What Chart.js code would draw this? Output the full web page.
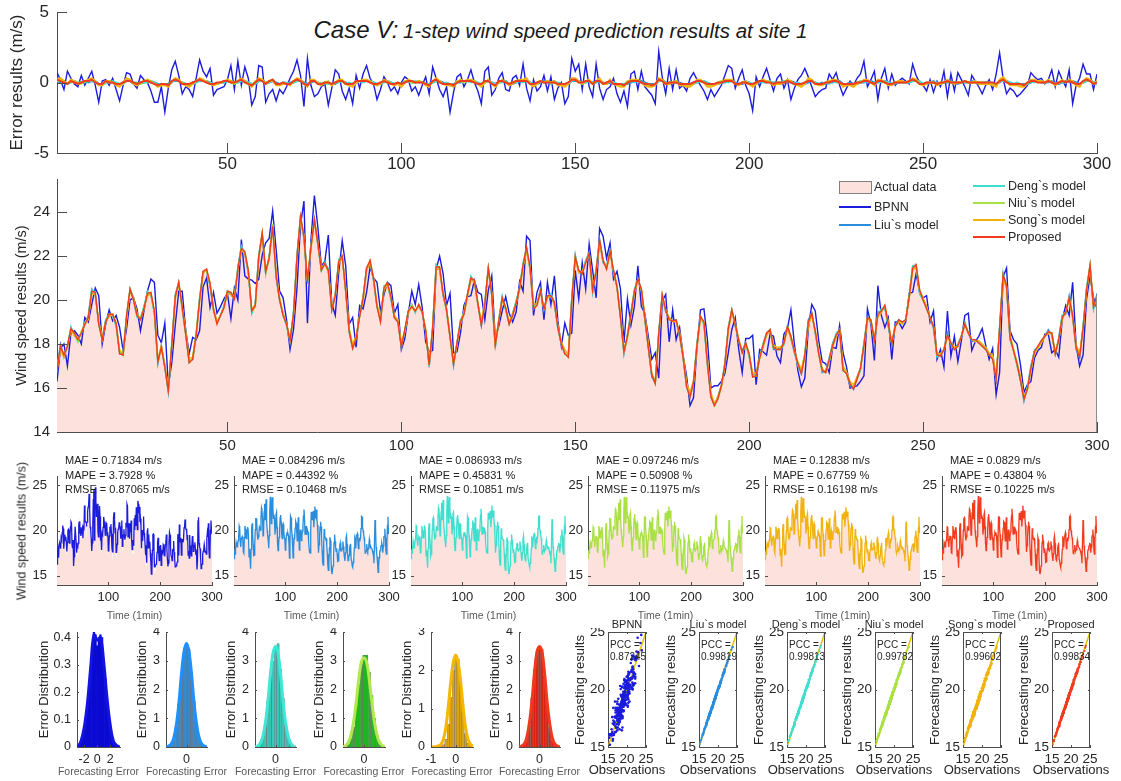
<!DOCTYPE html>
<html>
<head>
<meta charset="utf-8">
<title>Case V: 1-step wind speed prediction results at site 1</title>
<script src="https://cdn.jsdelivr.net/npm/chart.js@4.4.1/dist/chart.umd.min.js"></script>
<style>
  body { margin: 0; background: #fff; }
  #fig { position: relative; width: 1121px; height: 781px; overflow: hidden;
         font-family: "Liberation Sans", Arial, sans-serif; color: #262626; }
  #fig canvas { position: absolute; }
  .t { position: absolute; white-space: nowrap; }
</style>
</head>
<body>
<div id="fig">
  <div class="t" style="left:0;width:1121px;text-align:center;top:15px;line-height:30px;font-style:italic;color:#1a1a1a">
    <span style="font-size:24px">Case V:</span> <span style="font-size:20.5px">1-step wind speed prediction results at site 1</span>
  </div>
</div>
<script>
// ---- data ----
const steps = Array.from({length: 300}, (_, k) => k + 1); // time index, 1 min

const actual = [
17.0,18.0,17.5,17.8,18.8,18.5,18.1,18.5,19.0,19.3,
20.6,20.35,18.8,18.1,19.1,19.35,19.35,18.8,17.45,17.5,
19.4,20.6,20.0,19.2,19.1,19.7,20.4,20.35,19.4,17.0,
17.75,16.85,15.7,18.05,20.35,20.9,19.6,18.35,17.05,17.3,
18.5,20.2,21.4,21.4,20.65,19.45,18.9,19.3,19.75,20.5,
20.35,20.05,21.5,22.55,22.2,21.25,19.3,19.75,22.15,23.15,
21.2,22.0,23.55,21.0,19.9,19.3,18.8,18.05,19.45,22.15,
23.9,22.8,20.65,22.5,23.75,22.5,21.25,21.65,21.35,19.45,
20.2,21.85,22.1,20.35,18.5,17.7,18.35,19.35,20.2,21.55,
21.8,20.9,19.6,19.0,20.65,20.8,20.05,19.1,19.0,17.75,
18.65,19.6,19.8,19.5,19.8,19.45,18.5,16.85,18.8,21.7,
21.5,20.2,19.45,18.2,16.9,18.05,19.1,19.45,20.35,21.1,
20.9,19.75,18.75,19.9,21.55,20.2,17.75,19.1,20.2,19.65,
18.8,19.3,19.95,20.65,21.7,22.5,21.4,19.5,19.75,20.5,
19.6,20.2,20.2,19.9,18.65,17.9,17.45,17.4,20.2,22.15,
21.35,21.2,21.8,22.25,20.35,21.4,22.85,21.7,21.4,22.3,
21.25,20.5,19.1,17.45,18.35,19.45,20.5,21.05,20.5,19.1,
17.75,16.4,16.1,18.65,20.35,19.45,19.1,19.05,19.1,18.35,
17.3,15.95,15.5,16.25,18.05,19.35,19.0,17.0,15.5,15.1,
15.5,16.1,17.15,18.8,19.65,18.8,18.05,17.6,18.05,17.45,
16.4,16.55,17.45,18.05,18.5,18.65,17.75,17.75,17.75,18.05,
18.9,18.35,17.6,17.0,16.55,17.45,19.1,19.5,18.5,17.45,
16.7,16.7,17.3,18.05,18.5,18.65,16.7,16.55,16.1,15.85,
16.4,16.9,18.05,19.3,19.1,18.05,19.45,19.6,19.75,18.8,
17.9,18.8,19.1,19.0,19.1,20.2,21.65,21.7,20.35,19.9,
19.6,19.2,18.8,17.4,17.45,17.75,18.5,18.05,17.75,17.9,
18.35,19.0,18.5,18.2,18.2,18.05,17.9,17.75,17.5,17.3,
16.3,18.8,21.35,20.65,18.2,17.6,17.0,16.25,15.3,15.95,
17.0,17.75,17.9,18.15,18.35,18.65,18.5,17.45,18.2,19.3,
19.45,20.2,19.3,17.75,17.3,18.8,20.65,21.7,19.6,20.2
];

// forecasting errors (actual - forecast), m/s
const errBPNN = [
0.7,0.2,-0.5,0.8,0.3,-0.1,-0.3,0.5,-0.2,0.3,
0.8,-0.2,-1.4,0.1,0.2,-0.2,0.3,-0.5,-1.3,-0.2,
0.7,0.6,-0.1,-0.4,0.5,0.2,0.0,-0.6,-1.4,-1.4,
-0.3,-2.1,-0.4,0.9,1.5,0.5,-0.8,-0.3,-0.5,-1.0,
0.3,1.6,0.8,0.4,1.0,-0.9,-0.5,-0.4,-0.3,0.2,
1.2,-0.5,1.5,-0.2,1.1,0.3,-1.6,-1.0,1.2,1.1,
-1.4,-0.8,-0.5,-1.3,-0.5,-0.8,-0.3,0.3,0.8,1.6,
0.5,-1.7,1.7,-0.2,-1.0,-0.8,-0.3,-0.1,-1.6,-0.4,
0.9,0.6,-0.6,-1.2,-0.4,-1.5,0.5,-0.4,0.6,1.2,
0.3,-0.1,-1.2,-0.5,0.4,0.0,-0.6,-0.3,-0.8,0.0,
0.4,0.2,-0.6,-0.3,-0.9,-0.2,0.4,-0.8,1.1,0.3,
-0.5,-1.0,-0.3,-2.1,-0.7,0.4,0.6,-0.3,0.2,0.9,
0.0,-0.6,-1.5,0.8,1.1,-0.9,-0.5,0.3,0.7,-0.5,
-0.6,0.3,0.5,-0.2,1.3,-0.4,-1.3,0.2,-0.6,-0.3,
0.5,-0.6,0.4,-1.2,-0.4,0.0,-1.5,-1.0,1.7,0.8,
1.3,-0.5,1.3,-0.3,-1.0,1.3,-0.4,-1.2,-0.5,-0.3,
0.3,-0.8,-1.4,-0.6,-1.7,0.6,0.8,-0.5,0.8,-0.3,
-0.6,-0.9,-1.5,2.2,0.4,-0.8,1.0,-0.5,0.9,-0.4,
-0.2,-0.6,0.3,0.7,0.2,-0.2,-0.6,-1.2,-0.5,-1.0,
-0.6,-0.2,0.5,1.2,1.0,-0.4,0.3,0.9,-0.2,-0.8,
-2.0,0.4,-0.3,0.4,1.0,0.2,-0.6,0.3,0.6,-0.4,
0.2,-1.2,-0.4,0.2,0.5,1.0,0.4,-0.3,-1.0,-0.7,
-0.5,-0.4,0.6,0.2,0.7,-0.2,-0.9,-0.4,0.1,-0.2,
0.3,0.6,1.5,-0.3,0.2,0.8,-1.2,0.3,1.0,-0.4,
0.6,-0.2,0.1,0.3,0.1,-0.1,1.3,0.5,0.0,-0.2,
-0.6,0.2,-0.7,0.1,-0.3,0.8,-1.0,0.6,-0.6,0.7,
0.2,-0.3,-0.9,0.5,0.1,-0.3,-0.8,-0.2,0.2,-0.5,
0.6,2.1,0.3,-0.8,-0.4,-0.6,-1.0,-0.8,-0.5,-0.2,
0.7,0.4,0.2,0.3,-0.1,0.2,0.9,-0.3,0.8,0.2,
-0.3,0.9,-1.5,-0.2,0.3,1.3,0.6,0.6,-0.5,0.6
];

const errLiu = [
0.1,0,0.1,-0.1,0.1,0.1,-0.1,0,0.1,0,
0.1,0.1,-0.1,-0.1,0,0.1,0,-0.1,-0.2,0,
0.2,0.1,-0.1,-0.1,0,0,0.1,0.1,0,-0.1,
-0.2,-0.1,-0.1,0.1,0.1,0.1,0,-0.1,-0.2,0,
0.1,0.1,0.1,0.1,0,-0.1,-0.1,0,0,0.1,
0.1,0,0,0.1,0.1,0,-0.1,-0.1,0.1,0.2,
0,0,0.1,0,-0.1,-0.1,-0.1,0,0,0.1,
0.2,0,-0.1,0,0.1,0,-0.1,-0.1,0,-0.1,
-0.1,0.1,0.1,0,-0.1,-0.1,0,0.1,0.1,0.1,
0.1,0,-0.1,-0.1,0.1,0.1,0,-0.1,-0.1,-0.1,
0.1,0.1,0,0,0.1,0,-0.1,-0.1,0,0.1,
0.1,0,-0.1,-0.2,-0.1,0,0,0.1,0.1,0.1,
0.1,-0.1,-0.1,0,0.1,0,-0.1,0,0.1,0.1,
-0.1,-0.1,0,0.1,0.1,0.2,0,-0.1,-0.1,0,
0.1,0,0,0.1,-0.1,-0.1,-0.1,-0.1,0.1,0.1,
0.1,0,0,0.1,0,0,0.2,0,-0.1,0,
0,-0.1,-0.1,-0.1,-0.1,0,0.1,0.1,0.1,0,
-0.1,-0.1,-0.1,0.1,0.2,0,-0.1,0,0,0,
-0.1,-0.2,-0.1,0,0,0.1,0.1,-0.1,-0.1,-0.1,
-0.1,0,0,0.1,0.1,0,-0.1,-0.1,0,0,
-0.2,-0.1,0,0.1,0.1,0,0,0,-0.1,0,
0.1,0.1,0,-0.1,-0.1,-0.1,0,0.1,0,-0.1,
0,-0.1,0,0,0.1,0.1,-0.1,-0.1,0,-0.1,
-0.1,0,0,0.1,0.1,0,0,0.1,0.1,0,
-0.1,-0.1,0,0,0,0,0.1,0.2,0,-0.1,
-0.1,0,0.1,-0.1,-0.1,0,0,0.1,0,-0.1,
0,0,0,0.1,0,0,-0.1,0,0,-0.1,
-0.1,0,0.2,0.1,0,-0.1,-0.1,-0.1,-0.1,-0.1,
0,0.1,0.1,0,0,0,0.1,-0.1,-0.1,0,
0.1,0,0.1,0,-0.1,0,0.1,0.2,0,-0.1
];

const errDeng = [
0.1,0.1,0,-0.1,0,0.1,0,0,0,0.1,
0.1,0,-0.1,-0.2,0,0,0.1,0,-0.1,-0.1,
0.1,0.1,0,0,-0.1,0,0,0.1,0,-0.2,
-0.1,-0.1,-0.2,0,0.2,0.1,0,-0.1,-0.1,-0.1,
0,0.1,0.2,0,0,-0.1,-0.1,0,0,0.1,
0,0,0,0.1,0.1,0,-0.1,-0.1,0.1,0.1,
0,0,0.2,-0.1,-0.1,0,0,-0.1,0,0.1,
0.1,-0.1,-0.2,0.1,0.1,0,-0.1,0,-0.1,-0.1,
0,0,0.1,-0.1,0,-0.1,0,0.1,0,0.1,
0.1,0,-0.1,-0.1,0,0.1,0,-0.1,0,-0.1,
0,0.1,0,0.1,0,0,-0.1,-0.1,0,0.1,
0.1,-0.1,0,-0.1,-0.2,0,0.1,0,0.1,0,
0.1,0,-0.1,0,0.1,0,-0.1,0,0,0.1,
-0.1,0,0,0.1,0,0.1,0,-0.1,-0.1,0.1,
0,0.1,-0.1,0,0,-0.1,-0.1,-0.1,0.1,0.2,
0.1,-0.1,0,0.1,0,0,0.1,-0.1,-0.1,0.1,
0,-0.1,-0.2,-0.1,0,0.1,0,0.1,0,-0.1,
-0.1,-0.2,-0.1,0.1,0.1,-0.1,0,0,0.1,-0.1,
-0.1,-0.1,-0.1,-0.1,0,0.1,0.1,0,-0.1,-0.1,
-0.1,0,0.1,0,0.1,-0.1,-0.1,0,0.1,0,
-0.1,0,0.1,0,0,0.1,-0.1,0,0,0.1,
0.1,0,-0.1,0,-0.1,-0.1,0.1,0.1,0,-0.1,
-0.1,0,-0.1,0.1,0,0,-0.1,-0.1,-0.1,-0.1,
0,0.1,0,0.1,0,-0.1,0.1,0,0.1,0,
-0.1,0,0,0.1,0,0,0.1,0.1,0.1,-0.1,
0,0,0,0,-0.1,0,0.1,0,0,0,
0,0.1,0,0,0.1,-0.1,0,0,0,-0.1,
-0.1,0.1,0.1,0.1,0,-0.1,0,-0.1,-0.2,-0.1,
0.1,0,0.1,0,0,0.1,0,-0.1,0,0,
0,0.1,0,-0.1,-0.1,0,0.1,0.1,0,0
];

const errNiu = [
0.1,0.2,0,-0.1,0.1,0,0,-0.1,0.1,0.1,
0.2,0.1,-0.2,-0.1,0.1,0,0,-0.1,-0.2,-0.1,
0.2,0.1,0,-0.1,-0.1,0.1,0.1,0,-0.1,-0.2,
-0.1,-0.2,-0.2,0.1,0.2,0.1,0,-0.2,-0.1,-0.1,
0.1,0.2,0.1,0.1,-0.1,-0.1,-0.1,0,0.1,0.1,
0,-0.1,0.1,0.2,0,-0.1,-0.2,0.1,0.2,0.1,
0,0.1,0.1,-0.1,-0.2,0,-0.1,-0.1,0.1,0.2,
0.2,-0.1,-0.2,0.1,0.1,0,-0.1,0,0.1,-0.2,
0,0.1,0.1,-0.1,-0.2,-0.1,0.1,0.1,0.1,0.2,
0,-0.1,-0.2,0,0.1,0,-0.1,-0.1,0,-0.2,
0.1,0.1,0,0,0.1,0,-0.1,-0.2,0.1,0.2,
0,-0.1,-0.1,-0.1,-0.2,0.1,0.1,0,0.1,0.1,
0,-0.1,-0.2,0.1,0.1,-0.1,-0.2,0.1,0.1,0,
-0.1,0,0.1,0.1,0.1,0.2,-0.1,-0.2,0,0.1,
0,0.1,0,0,-0.1,-0.1,-0.2,0,0.2,0.2,
0,0,0.1,0.1,-0.1,0.1,0.2,-0.1,0,0.1,
-0.1,-0.1,-0.2,-0.2,0.1,0.1,0.1,0.1,0,-0.1,
-0.2,-0.2,-0.1,0.2,0.1,-0.1,0,0,0.1,-0.1,
-0.1,-0.2,-0.2,0,0.1,0.1,0,-0.2,-0.2,-0.1,
0,0.1,0.1,0.1,0.1,-0.1,-0.1,0,0,-0.1,
-0.2,0,0.1,0.1,0.1,0,-0.1,0,0,0,
0.1,0,-0.1,-0.1,-0.2,0,0.2,0.1,-0.1,-0.1,
-0.1,0,0.1,0.1,0.1,0,-0.2,-0.1,-0.1,-0.2,
0,0,0.1,0.1,0,-0.1,0.1,0.1,0,-0.1,
-0.1,0,0.1,0,0,0.1,0.2,0.1,-0.1,-0.1,
0,0,0,-0.1,0,0,0.1,0,0,0,
0,0.1,0,0,0,0,0,-0.1,0,-0.1,
-0.2,0.1,0.2,0,-0.1,-0.1,-0.1,-0.2,-0.2,0,
0.1,0.1,0,0.1,0,0.1,0,-0.1,0,0.1,
0,0.1,0,-0.1,-0.2,0.1,0.2,0.1,-0.1,0.1
];

const errSong = [
0.2,0.3,0.1,-0.1,0.2,0.1,-0.1,0,0.1,0.2,
0.3,0.1,-0.2,-0.2,0.1,0.1,0,-0.2,-0.3,0,
0.3,0.2,-0.1,-0.2,0,0.1,0.2,0.1,-0.1,-0.3,
-0.2,-0.2,-0.3,0.1,0.3,0.2,-0.1,-0.2,-0.3,-0.1,
0.1,0.3,0.2,0,-0.1,-0.2,-0.1,0,0.1,0.2,
0.1,0,0.1,0.3,0.1,-0.1,-0.3,0,0.3,0.2,
-0.1,0.1,0.2,-0.2,-0.2,-0.1,-0.1,-0.2,0.1,0.3,
0.2,-0.1,-0.3,0.2,0.2,-0.1,-0.2,0,0,-0.2,
0,0.2,0.2,-0.1,-0.2,-0.3,0,0.1,0.2,0.2,
0.1,-0.1,-0.2,-0.1,0.2,0.1,-0.1,-0.2,-0.1,-0.3,
0,0.2,0.1,0,0.1,0,-0.2,-0.3,0.1,0.3,
0.1,-0.1,-0.2,-0.2,-0.3,0,0.2,0.1,0.2,0.2,
0.1,-0.1,-0.3,0,0.2,-0.1,-0.3,0,0.2,0,
-0.2,-0.1,0.1,0.2,0.2,0.3,-0.1,-0.3,-0.1,0.1,
0,0.1,0,0.1,-0.2,-0.2,-0.3,-0.1,0.3,0.3,
0.1,-0.1,0.1,0.2,-0.1,0.1,0.3,-0.1,-0.1,0.2,
-0.1,-0.2,-0.3,-0.3,0,0.2,0.2,0.2,0,-0.2,
-0.3,-0.3,-0.2,0.3,0.2,-0.1,-0.1,0,0.1,-0.2,
-0.2,-0.3,-0.3,-0.1,0.2,0.2,0,-0.3,-0.3,-0.2,
-0.1,0,0.2,0.2,0.2,-0.1,-0.2,0,0.1,-0.1,
-0.3,-0.1,0.1,0.2,0.1,0,-0.2,-0.1,-0.1,0,
0.2,0.1,-0.1,-0.2,-0.3,-0.1,0.3,0.2,-0.1,-0.2,
-0.2,0,0.1,0.2,0.2,0,-0.3,-0.2,-0.2,-0.3,
-0.1,0,0.2,0.2,0,-0.2,0.2,0.2,0,-0.2,
-0.2,0,0.1,0.1,0,0.1,0.3,0.2,-0.1,-0.2,
-0.1,0,0,-0.2,-0.1,0,0.2,0,-0.1,0,
0,0.1,0,0,0.1,-0.1,-0.1,-0.1,-0.1,-0.2,
-0.3,0.2,0.4,0.1,-0.2,-0.2,-0.2,-0.3,-0.3,0,
0.2,0.2,0.1,0.1,0,0.2,0,-0.2,0,0.2,
0,0.2,0.1,-0.2,-0.3,0.1,0.3,0.2,-0.1,0.1
];

const errProp = [
0.2,0.1,0,-0.1,0.1,0,-0.1,0,0.1,0.1,
0.2,0,-0.1,-0.1,0.1,0,0,-0.1,-0.1,0,
0.1,0.1,0,-0.1,0,0.1,0.1,0,-0.1,-0.2,
-0.1,-0.1,-0.2,0.1,0.2,0.1,-0.1,-0.1,-0.1,0,
0.1,0.2,0.1,0,-0.1,-0.1,0,0,0.1,0.1,
0,0,0.1,0.2,0,-0.1,-0.2,0,0.2,0.1,
-0.1,0.1,0.2,-0.1,-0.1,0,-0.1,-0.1,0.1,0.2,
0.1,-0.1,-0.2,0.1,0.1,-0.1,-0.1,0,0,-0.1,
0,0.1,0.1,-0.1,-0.1,-0.1,0.1,0.1,0.1,0.1,
0,-0.1,-0.1,0,0.1,0,-0.1,-0.1,0,-0.1,
0,0.1,0.1,0,0,0,-0.1,-0.2,0.1,0.2,
0,-0.1,-0.1,-0.1,-0.2,0,0.1,0.1,0.1,0.1,
0,-0.1,-0.1,0.1,0.1,-0.1,-0.2,0.1,0.1,0,
-0.1,0,0.1,0.1,0.1,0.1,-0.1,-0.1,0,0.1,
0,0,0,0,-0.1,-0.1,-0.1,0,0.2,0.2,
0,0,0.1,0.1,-0.1,0.1,0.1,-0.1,0,0.1,
-0.1,-0.1,-0.1,-0.2,0,0.1,0.1,0.1,0,-0.1,
-0.1,-0.2,-0.1,0.2,0.1,-0.1,0,0,0,-0.1,
-0.1,-0.1,-0.1,0,0.1,0.1,0,-0.1,-0.1,-0.1,
0,0,0.1,0.1,0.1,-0.1,-0.1,0,0,-0.1,
-0.1,0,0.1,0.1,0,0,-0.1,0,0,0,
0.1,0,-0.1,-0.1,-0.1,0,0.1,0.1,-0.1,-0.1,
-0.1,0,0,0.1,0.1,0,-0.1,-0.1,-0.1,-0.1,
0,0,0.1,0.1,0,-0.1,0.1,0.1,0,-0.1,
-0.1,0,0,0,0,0.1,0.2,0.1,-0.1,-0.1,
0,0,0,-0.1,0,0,0.1,0,0,0,
0,0.1,0,0,0,0,0,0,0,0,
-0.1,0.1,0.2,0,-0.1,-0.1,-0.1,-0.1,-0.2,0,
0.1,0.1,0,0,0,0.1,0,-0.1,0,0.1,
0,0.1,0,-0.1,-0.1,0.1,0.2,0.1,-0.1,0
];

const models = ['BPNN', 'Liu`s model', 'Deng`s model', 'Niu`s model', 'Song`s model', 'Proposed'];
const colors = ['#1c1cdc', '#2a8ddc', '#3fdfcf', '#a9e043', '#f1b20d', '#f13b1f'];

const mae  = ['0.71834', '0.084296', '0.086933', '0.097246', '0.12838', '0.0829'];
const mape = ['3.7928', '0.44392', '0.45831', '0.50908', '0.67759', '0.43804'];
const rmse = ['0.87065', '0.10468', '0.10851', '0.11975', '0.16198', '0.10225'];
const pcc  = ['0.87245', '0.99819', '0.99813', '0.99782', '0.99602', '0.99834'];

const xTicksLong = [50, 100, 150, 200, 250, 300];
const xTicksShort = [100, 200, 300];
const errTicks = [-5, 0, 5];
const speedTicks = [14, 16, 18, 20, 22, 24];
const smallTicks = [15, 20, 25];
const diag = [15, 25];

// error histograms (density) and fitted curves
const binsWide = [-2.75,-2.5,-2.25,-2,-1.75,-1.5,-1.25,-1,-0.75,-0.5,-0.25,0,0.25,0.5,0.75,1,1.25,1.5,1.75,2,2.25,2.5,2.75];
const densBPNN = [0.01,0.02,0.04,0.07,0.11,0.16,0.22,0.29,0.36,0.42,0.41,0.37,0.40,0.41,0.40,0.32,0.25,0.18,0.12,0.07,0.04,0.02,0.01];
const binsNarrow = [-0.35,-0.3,-0.25,-0.2,-0.15,-0.1,-0.05,0,0.05,0.1,0.15,0.2,0.25,0.3,0.35];
const densLiu  = [0.02,0.08,0.25,0.7,1.5,2.5,3.3,3.6,3.4,2.6,1.6,0.8,0.3,0.1,0.03];
const densDeng = [0.02,0.1,0.3,0.8,1.6,2.5,3.0,3.5,3.6,2.7,1.7,0.8,0.3,0.1,0.02];
const densNiu  = [0.03,0.1,0.3,0.7,1.4,2.2,2.9,3.2,3.2,2.6,1.8,1.0,0.4,0.15,0.05];
const densProp = [0.02,0.08,0.3,0.8,1.7,2.7,3.3,3.5,3.4,2.5,1.5,0.7,0.25,0.08,0.02];
const binsSong = [-0.6,-0.5,-0.4,-0.3,-0.2,-0.1,0,0.1,0.2,0.3,0.4,0.5,0.6];
const densSong = [0.02,0.06,0.2,0.6,1.3,2.0,2.4,2.3,1.7,0.9,0.35,0.1,0.03];

const curveWideX = [-3,-2.5,-2,-1.5,-1,-0.5,0,0.5,1,1.5,2,2.5,3,3.5];
const curveBPNN  = [0,0.02,0.07,0.16,0.29,0.41,0.39,0.40,0.31,0.18,0.08,0.02,0.005,0];
const curveNarrowX = [-0.4,-0.35,-0.3,-0.25,-0.2,-0.15,-0.1,-0.05,0,0.05,0.1,0.15,0.2,0.25,0.3,0.35,0.4];
const curveLiu  = [0,0.03,0.1,0.3,0.75,1.5,2.5,3.3,3.6,3.3,2.5,1.5,0.75,0.3,0.1,0.03,0];
const curveDeng = [0,0.03,0.12,0.35,0.8,1.55,2.5,3.25,3.5,3.25,2.5,1.55,0.8,0.35,0.12,0.03,0];
const curveNiu  = [0,0.05,0.15,0.4,0.85,1.55,2.35,2.95,3.1,2.95,2.35,1.55,0.85,0.4,0.15,0.05,0];
const curveProp = [0,0.03,0.1,0.32,0.8,1.55,2.55,3.3,3.5,3.3,2.55,1.55,0.8,0.32,0.1,0.03,0];
const curveSongX = [-1,-0.9,-0.8,-0.7,-0.6,-0.5,-0.4,-0.3,-0.2,-0.1,0,0.1,0.2,0.3,0.4,0.5,0.6,0.7];
const curveSong  = [0,0,0.01,0.03,0.07,0.2,0.5,1.05,1.7,2.2,2.4,2.2,1.7,1.05,0.5,0.2,0.07,0.02];

// ---- drawing ----
const TXT = '#262626';
const AX = '#4d4d4d';
const PINK = '#fce1dd';
Chart.defaults.font.family = '"Liberation Sans", Arial, sans-serif';
Chart.defaults.color = TXT;

const fig = document.getElementById('fig');

// inward tick marks (+ optional closed box / area edge), placed from the chart's own scales
const frame = {
  id: 'frame',
  afterDatasetsDraw(chart, args, opts) {
    const {ctx, chartArea: a} = chart;
    const sx = chart.scales.x, sy = chart.scales.y;
    const len = opts.len || 0;
    ctx.save();
    if (opts.edge) {
      const pts = chart.getDatasetMeta(0).data;
      const last = pts[pts.length - 1];
      ctx.strokeStyle = '#8c8c8c';
      ctx.beginPath();
      ctx.moveTo(Math.round(last.x) - 0.5, last.y); ctx.lineTo(Math.round(last.x) - 0.5, a.bottom);
      ctx.stroke();
    }
    ctx.strokeStyle = AX;
    ctx.lineWidth = 1;
    ctx.beginPath();
    sx.ticks.forEach(t => {
      const p = Math.round(sx.getPixelForValue(t.value)) + 0.5;
      ctx.moveTo(p, a.bottom); ctx.lineTo(p, a.bottom - len);
      if (opts.box) { ctx.moveTo(p, a.top); ctx.lineTo(p, a.top + len); }
    });
    sy.ticks.forEach(t => {
      const p = Math.round(sy.getPixelForValue(t.value)) + 0.5;
      ctx.moveTo(a.left, p); ctx.lineTo(a.left + len, p);
      if (opts.box) { ctx.moveTo(a.right, p); ctx.lineTo(a.right - len, p); }
    });
    if (opts.box) {
      ctx.moveTo(a.left, a.top + 0.5); ctx.lineTo(a.right, a.top + 0.5);
      ctx.moveTo(a.right - 0.5, a.top); ctx.lineTo(a.right - 0.5, a.bottom);
    }
    ctx.stroke();
    ctx.restore();
  }
};

function axis(dir, o, m) {
  return {
    type: 'linear', min: o.min, max: o.max, offset: false, z: 1,
    grid: {display: false, drawTicks: false},
    border: {display: true, color: AX, width: 1},
    ticks: {font: {size: o.fs}, color: TXT, padding: o.pad, autoSkip: false, maxRotation: 0,
            callback: v => String(v)},
    title: {display: !!o.title, text: o.title || '', font: {size: o.tfs}, color: o.tc || TXT, padding: 0},
    afterBuildTicks: s => { s.ticks = o.ticks.map(v => ({value: v})); },
    afterFit: s => {
      if (dir === 'x') s.height = m.b; else s.width = m.l;
      s.paddingLeft = s.paddingRight = s.paddingTop = s.paddingBottom = 0;
    }
  };
}

// box = plot area on the page, m = room around it for ticks and titles
function panel(box, m, type, data, xo, yo, fo) {
  const c = document.createElement('canvas');
  const w = box.w + m.l + m.r, h = box.h + m.t + m.b;
  c.width = w; c.height = h;
  Object.assign(c.style, {left: (box.l - m.l) + 'px', top: (box.t - m.t) + 'px', width: w + 'px', height: h + 'px'});
  fig.appendChild(c);
  return new Chart(c, {
    type, data,
    options: {
      responsive: false, animation: false, events: [],
      layout: {padding: {left: 0, top: m.t, right: m.r, bottom: 0}},
      plugins: {legend: {display: false}, tooltip: {enabled: false}, frame: fo || {}},
      scales: {x: axis('x', xo, m), y: axis('y', yo, m)}
    },
    plugins: [frame]
  });
}

function addText(x, y, str, size, extra) {
  const d = document.createElement('div');
  d.className = 't';
  d.textContent = str;
  Object.assign(d.style, {left: x + 'px', top: (y - size * 0.6) + 'px', fontSize: size + 'px', lineHeight: (size * 1.2) + 'px'}, extra || {});
  fig.appendChild(d);
  return d;
}
// text centred on (x, y), optionally turned upright
function addLabel(x, y, str, size, vertical, color) {
  const d = document.createElement('div');
  d.className = 't';
  d.textContent = str;
  Object.assign(d.style, {left: x + 'px', top: y + 'px', fontSize: size + 'px', lineHeight: (size * 1.2) + 'px',
    color: color || TXT, transform: 'translate(-50%,-50%)' + (vertical ? ' rotate(-90deg)' : '')});
  fig.appendChild(d);
  return d;
}

const pairs = (xs, ys) => xs.map((x, k) => ({x, y: ys[k]}));
const errSets = [errBPNN, errLiu, errDeng, errNiu, errSong, errProp];
const preds = errSets.map(e => actual.map((v, k) => +(v - e[k]).toFixed(2)));

// 1) error series
panel({l: 57, t: 12, w: 1040, h: 141}, {l: 50, r: 22, t: 12, b: 26}, 'line',
  {labels: steps, datasets: errSets.map((e, k) => ({
    data: e, borderColor: colors[k], borderWidth: k ? 2 : 1.4, pointRadius: 0, order: 6 - k}))},
  {min: 1, max: 300, ticks: xTicksLong, fs: 17, pad: 1},
  {min: -5, max: 5, ticks: errTicks, fs: 17, pad: 8, title: 'Error results (m/s)', tfs: 17},
  {len: 10});

// 2) wind speed series
const mid = panel({l: 57, t: 179, w: 1040, h: 253}, {l: 44, r: 22, t: 4, b: 26}, 'line',
  {labels: steps, datasets: [
    {label: 'Actual data', data: actual, fill: 'start', backgroundColor: PINK,
     borderColor: 'rgba(0,0,0,0)', borderWidth: 0, pointRadius: 0, order: 7},
    ...models.map((name, k) => ({label: name, data: preds[k], borderColor: colors[k],
      borderWidth: 1.4, pointRadius: 0, fill: false, order: 6 - k}))
  ]},
  {min: 1, max: 300, ticks: xTicksLong, fs: 15, pad: 5},
  {min: 14, max: 25.5, ticks: speedTicks, fs: 15, pad: 7, title: 'Wind speed results (m/s)', tfs: 14.5},
  {len: 10, edge: true});

// legend in two columns
const slots = [[839, 187], [839, 207], [839, 225], [973, 186], [973, 203], [973, 220], [973, 237]];
mid.data.datasets.forEach((ds, k) => {
  const [x, y] = slots[k];
  const s = document.createElement('div');
  s.style.position = 'absolute';
  if (ds.fill) {
    Object.assign(s.style, {left: x + 'px', top: (y - 6) + 'px', width: '31px', height: '11px',
      background: ds.backgroundColor, border: '1px solid #808080'});
  } else {
    Object.assign(s.style, {left: x + 'px', top: (y - 1) + 'px', width: '32px', height: '0',
      borderTop: '2px solid ' + ds.borderColor});
  }
  fig.appendChild(s);
  addText(x + 35, y, ds.label, 12.5);
});

// 3) one panel per model
const smallLefts = [57, 234, 411, 588, 765, 942];
models.forEach((name, k) => {
  const first = k === 0;
  panel({l: smallLefts[k], t: 476, w: 155, h: 109}, {l: first ? 38 : 30, r: 14, t: 2, b: 37}, 'line',
    {labels: steps, datasets: [
      {data: preds[k], borderColor: colors[k], borderWidth: 1.3, pointRadius: 0, order: 0},
      {data: actual, fill: 'start', backgroundColor: PINK, borderWidth: 0, pointRadius: 0, order: 1}
    ]},
    {min: 1, max: 300, ticks: xTicksShort, fs: 13, pad: 5, title: 'Time (1min)', tfs: 10.5, tc: '#595959'},
    {min: 14, max: 26, ticks: smallTicks, fs: 13, pad: first ? 10 : 5},
    {len: 3});
  addText(smallLefts[k] + 8, 461, 'MAE = ' + mae[k] + ' m/s', 11, {color: '#222'});
  addText(smallLefts[k] + 8, 476, 'MAPE = ' + mape[k] + ' %', 11, {color: '#222'});
  addText(smallLefts[k] + 8, 490, 'RMSE = ' + rmse[k] + ' m/s', 11, {color: '#222'});
});
addLabel(22, 531, 'Wind speed results (m/s)', 12.5, true);

// 4) error distributions
const hists = [
  {bins: binsWide, dens: densBPNN, cx: curveWideX, cy: curveBPNN, xr: [-3.1, 3.5], xt: [-2, 0, 2], ymax: 0.42, yt: [0, 0.1, 0.2, 0.3, 0.4], bar: '#0a0ad2', line: '#1414e0'},
  {bins: binsNarrow, dens: densLiu, cx: curveNarrowX, cy: curveLiu, xr: [-0.4, 0.4], xt: [0], ymax: 4, yt: [0, 1, 2, 3, 4], bar: '#3a86c4', line: '#1e90ff'},
  {bins: binsNarrow, dens: densDeng, cx: curveNarrowX, cy: curveDeng, xr: [-0.4, 0.4], xt: [0], ymax: 4, yt: [0, 1, 2, 3, 4], bar: '#33c9b8', line: '#40e6d6'},
  {bins: binsNarrow, dens: densNiu, cx: curveNarrowX, cy: curveNiu, xr: [-0.4, 0.4], xt: [0], ymax: 4, yt: [0, 1, 2, 3, 4], bar: '#1fb51f', line: '#b2e84e'},
  {bins: binsSong, dens: densSong, cx: curveSongX, cy: curveSong, xr: [-1, 0.7], xt: [-1, 0], ymax: 3, yt: [0, 1, 2, 3], bar: '#e3a300', line: '#f5b800'},
  {bins: binsNarrow, dens: densProp, cx: curveNarrowX, cy: curveProp, xr: [-0.4, 0.4], xt: [0], ymax: 4, yt: [0, 1, 2, 3, 4], bar: '#dc1f10', line: '#f03a1f'}
];
const histLefts = [77, 166, 255, 343, 431, 519];
const histW = [43, 41, 41, 42, 42, 41];
hists.forEach((h, k) => {
  panel({l: histLefts[k], t: 632, w: histW[k], h: 115}, {l: k ? 31 : 40, r: 8, t: 4, b: 30}, 'bar',
    {datasets: [
      {type: 'line', data: pairs(h.cx, h.cy), borderColor: h.line, borderWidth: 3, pointRadius: 0, tension: 0.4, order: 0},
      {type: 'bar', data: pairs(h.bins, h.dens), backgroundColor: h.bar, borderColor: 'rgba(50,50,50,0.55)',
       borderWidth: k ? 0.6 : 0, barPercentage: 1, categoryPercentage: 1, order: 1}
    ]},
    {min: h.xr[0], max: h.xr[1], ticks: h.xt, fs: 12.5, pad: 5},
    {min: 0, max: h.ymax, ticks: h.yt, fs: 12.5, pad: 6, title: 'Error Distribution', tfs: 13},
    {len: 2});
  addLabel(histLefts[k] + histW[k] / 2, 771, 'Forecasting Error', 10.5, false, '#595959');
});

// 5) observations vs forecasts
const scatLefts = [608, 699, 787, 875, 963, 1052];
models.forEach((name, k) => {
  const pts = actual.map((v, i) => ({x: v, y: preds[k][i]}));
  panel({l: scatLefts[k], t: 632, w: 38, h: 115}, {l: 36, r: 10, t: 4, b: 31}, 'scatter',
    {datasets: [
      {data: pts, backgroundColor: colors[k], borderWidth: 0, pointRadius: k ? 1.1 : 1.3, order: 1},
      {type: 'line', data: diag.map(v => ({x: v, y: v})), borderColor: '#e5c100', borderWidth: 1.5, pointRadius: 0, order: 2}
    ]},
    {min: 15, max: 25, ticks: smallTicks, fs: 13.5, pad: 4},
    {min: 15, max: 25, ticks: smallTicks, fs: 13.5, pad: 3},
    {len: 2, box: true});
  addLabel(scatLefts[k] + 19, 625, name, 11);
  addLabel(scatLefts[k] + 19, 770, 'Observations', 13);
  addLabel(scatLefts[k] - 28, 690, 'Forecasting results', 13, true);
  addText(scatLefts[k] + 2, 645, 'PCC =', 10);
  addText(scatLefts[k] + 2, 657, pcc[k], 10);
});
</script>
</body>
</html>
